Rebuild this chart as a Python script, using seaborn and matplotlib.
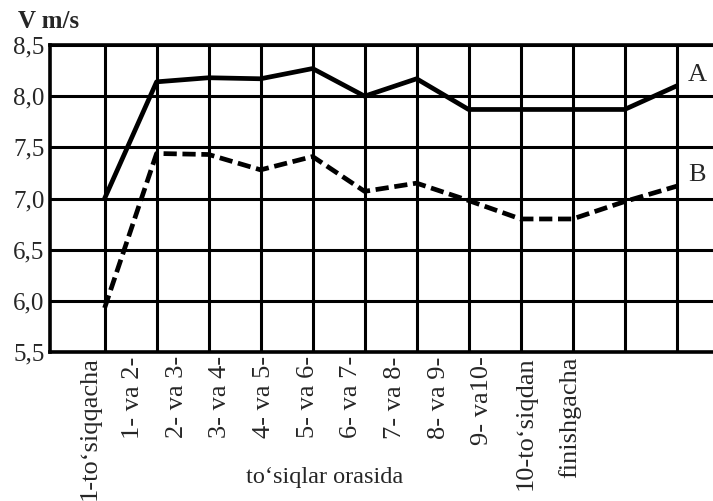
"""Speed between barriers, runners A and B."""
import numpy as np
import pandas as pd
import seaborn as sns
import matplotlib.pyplot as plt

# segments of the race
categories = ["1-to‘siqqacha", "1- va 2-", "2- va 3-", "3- va 4-", "4- va 5-",
              "5- va 6-", "6- va 7-", "7- va 8-", "8- va 9-", "9- va10-",
              "10-to‘siqdan", "finishgacha"]
# speed, m/s
speed_a = [7.0, 8.14, 8.18, 8.17, 8.27, 8.0, 8.17, 7.87, 7.87, 7.87, 7.87, 8.1]
speed_b = [5.93, 7.44, 7.43, 7.28, 7.41, 7.07, 7.15, 6.98, 6.8, 6.8, 6.97, 7.12]
series_names = ["A", "B"]
y_ticks = [5.5, 6.0, 6.5, 7.0, 7.5, 8.0, 8.5]
y_tick_labels = ["5,5", "6,0", "6,5", "7,0", "7,5", "8,0", "8,5"]

pos = np.arange(len(categories))
df = pd.DataFrame({
    "pos": np.concatenate([pos, pos]),
    "speed": speed_a + speed_b,
    "series": [series_names[0]] * len(pos) + [series_names[1]] * len(pos),
})

sns.set_style("white")
plt.rcParams["font.family"] = ["Liberation Serif", "DejaVu Serif"]

fig = plt.figure(figsize=(7.13, 5.01), dpi=100)
ax = fig.add_axes([50 / 713, 1 - 352 / 501, 663 / 713, 307 / 501])

sns.lineplot(data=df, x="pos", y="speed", style="series",
             dashes={"A": "", "B": (2.8, 1.2)}, color="black",
             linewidth=3.4, legend=False, ax=ax)

ax.set_xlim(-1.05, 11.7)
ax.set_ylim(5.5, 8.5)
ax.set_yticks(y_ticks, y_tick_labels, fontsize=18)
# grid lines on the categories, labels squeezed to the left as in the print
ax.set_xticks(pos, minor=True)
ax.set_xticks(np.linspace(-0.29, 8.94, len(categories)), categories,
              rotation=90, fontsize=19)
ax.tick_params(which="both", length=0)
ax.tick_params(axis="x", pad=3)
ax.tick_params(axis="y", pad=4)
ax.grid(False)
ax.grid(True, which="minor", axis="x", color="black", linewidth=2.2)
ax.grid(True, which="major", axis="y", color="black", linewidth=2.2)
for side in ["left", "top", "bottom"]:
    ax.spines[side].set_color("black")
    ax.spines[side].set_linewidth(2.6)
ax.spines["right"].set_visible(False)
ax.set_xlabel("")
ax.set_ylabel("")

ax.text(pos[-1] + 0.4, speed_a[-1] + 0.11, series_names[0], fontsize=19,
        ha="center", va="center")
ax.text(pos[-1] + 0.4, speed_b[-1] + 0.11, series_names[1], fontsize=19,
        ha="center", va="center")

fig.text(18 / 713, 1 - 21 / 501, "V m/s", fontsize=18, fontweight="bold",
         va="center")
fig.text(325 / 713, 1 - 477 / 501, "to‘siqlar orasida", fontsize=17.5,
         ha="center", va="center")

fig.savefig("out.png", dpi=100)
